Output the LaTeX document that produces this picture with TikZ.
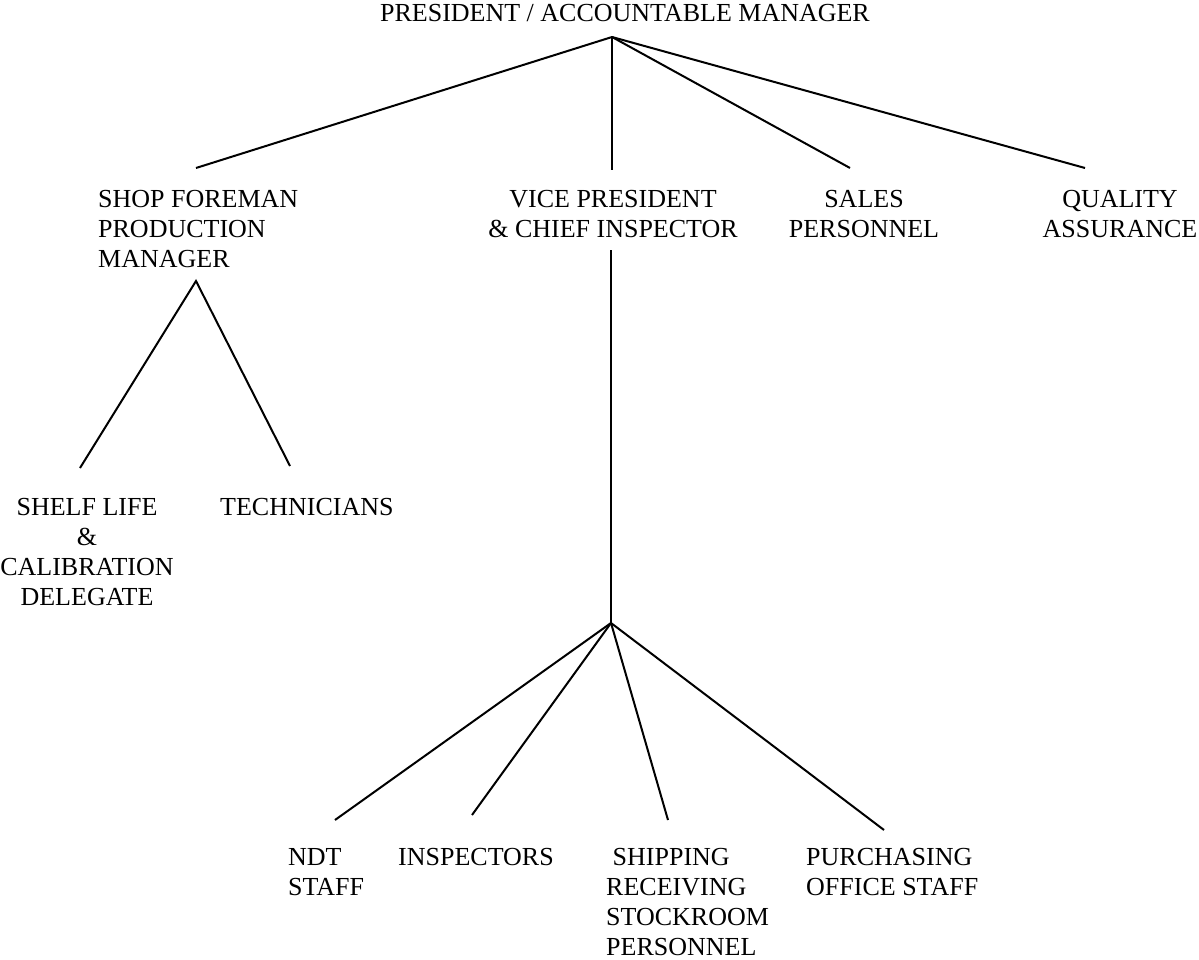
\documentclass[tikz,border=0pt]{standalone}
\usepackage{fontspec}
\setmainfont{Liberation Serif}
\usepackage{tikz}

\tikzset{
  post/.style={inner sep=0pt, font=\fontsize{26}{30}\selectfont},
  link/.style={line width=2pt},
}

\begin{document}
\begin{tikzpicture}[x=1pt,y=-1pt]
			\useasboundingbox (0,0) rectangle (1199,960);
			% Posts
			\node[post, anchor=north] (pres) at (625,4) {PRESIDENT / ACCOUNTABLE MANAGER};
			\node[post, anchor=north west, align=left] (shop) at (98,190) {SHOP FOREMAN\\PRODUCTION\\MANAGER};
			\node[post, anchor=north, align=center] (vp) at (613,190) {VICE PRESIDENT\\\& CHIEF INSPECTOR};
			\node[post, anchor=north, align=center] (sales) at (864,190) {SALES\\PERSONNEL};
			\node[post, anchor=north, align=center] (qa) at (1120,190) {QUALITY\\ASSURANCE};
			\node[post, anchor=north, align=center] (shelf) at (87,498) {SHELF LIFE\\\&\\CALIBRATION\\DELEGATE};
			\node[post, anchor=north west] (tech) at (220,498) {TECHNICIANS};
			\node[post, anchor=north west, align=left] (ndt) at (288,848) {NDT\\STAFF};
			\node[post, anchor=north west] (insp) at (398,848) {INSPECTORS};
			\node[post, anchor=north west, align=left] (ship) at (606,848) {\ SHIPPING\\RECEIVING\\STOCKROOM\\PERSONNEL};
			\node[post, anchor=north west, align=left] (purch) at (806,848) {PURCHASING\\OFFICE STAFF};
			% Line ends
			\coordinate (top) at (612,37);
			\coordinate (shoptop) at (196,168);
			\coordinate (vptop) at (612,170);
			\coordinate (salestop) at (850,168);
			\coordinate (qatop) at (1085,168);
			\coordinate (shopfoot) at (196,281);
			\coordinate (shelftop) at (80,468);
			\coordinate (techtop) at (290,466);
			\coordinate (vpfoot) at (611,250);
			\coordinate (hub) at (611,623);
			\coordinate (ndttop) at (335,820);
			\coordinate (insptop) at (472,815);
			\coordinate (shiptop) at (668,820);
			\coordinate (purchtop) at (884,830);
			% Lines
			\foreach \e in {shoptop,vptop,salestop,qatop}
			\draw[link] (top) -- (\e);
			\draw[link] (shelftop) -- (shopfoot) -- (techtop);
			\draw[link] (vpfoot) -- (hub);
			\foreach \e in {ndttop,insptop,shiptop,purchtop}
			\draw[link] (hub) -- (\e);
		\end{tikzpicture}
\end{document}
